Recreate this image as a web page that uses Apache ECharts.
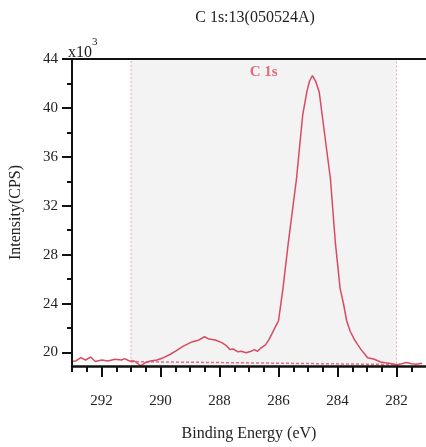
<!DOCTYPE html>
<html>
<head>
<meta charset="utf-8">
<script src="https://cdn.jsdelivr.net/npm/echarts@6/dist/echarts.min.js"></script>
<style>
  html, body { margin: 0; padding: 0; background: #ffffff; }
  #chart { width: 426px; height: 447px; }
</style>
</head>
<body>
<div id="chart"></div>
<script>
// C 1s XPS spectrum: binding energy (eV) vs. intensity (x10^3 CPS)
const energy = [293.00, 292.87, 292.70, 292.54, 292.37, 292.21, 291.99, 291.78, 291.55, 291.32,
  291.22, 291.05, 290.89, 290.67, 290.50, 290.34, 290.12, 289.90, 289.68, 289.46,
  289.24, 289.02, 288.91, 288.69, 288.51, 288.36, 288.14, 287.92, 287.76, 287.65,
  287.54, 287.37, 287.26, 287.10, 286.93, 286.82, 286.71, 286.60, 286.44, 286.33,
  286.22, 286.11, 286.00, 285.85, 285.67, 285.39, 285.18, 285.04, 284.95, 284.85,
  284.74, 284.62, 284.52, 284.24, 284.07, 283.91, 283.80, 283.69, 283.57, 283.42,
  283.31, 283.20, 283.08, 282.98, 282.75, 282.54, 282.38, 282.21, 281.99, 281.82,
  281.66, 281.49, 281.33, 281.13];
const intensity = [19.29, 19.31, 19.58, 19.39, 19.63, 19.27, 19.39, 19.31, 19.45, 19.39,
  19.50, 19.31, 19.31, 18.92, 19.19, 19.31, 19.39, 19.58, 19.84, 20.16,
  20.50, 20.77, 20.89, 21.03, 21.29, 21.10, 21.03, 20.81, 20.55, 20.24,
  20.29, 20.06, 20.10, 19.98, 20.10, 20.24, 20.10, 20.37, 20.63, 21.03,
  21.55, 22.08, 22.60, 25.21, 28.92, 34.21, 39.42, 41.31, 42.18, 42.65,
  42.18, 41.31, 39.42, 34.21, 28.92, 25.21, 24.03, 22.60, 21.74, 21.03,
  20.63, 20.24, 19.88, 19.58, 19.45, 19.23, 19.17, 19.11, 19.01, 19.09,
  19.19, 19.09, 19.05, 19.13];

// fitting region and linear background
const regionEnergy = [291, 282];
const backgroundIntensity = [19.26, 19.02];

// axis ticks
const xMajorTicks = [282, 284, 286, 288, 290, 292];
const xMinorTicks = [];
for (let e = 281.5; e <= 293; e += 0.5) xMinorTicks.push(e);
const yMajorTicks = [20, 24, 28, 32, 36, 40, 44];
const yMinorTicks = [20, 22, 24, 26, 28, 30, 32, 34, 36, 38, 40, 42, 44];

const peakLabel = 'C 1s';
const peakLabelPos = [286.5, 42.9];

const FONT = '"Liberation Serif", "DejaVu Serif", serif';
const LINE = '#d94a62';

const chart = echarts.init(document.getElementById('chart'), null, { renderer: 'canvas' });

const xRange = { min: 281, max: 293, inverse: true };
const yRange = { min: 18.9, max: 44 };

chart.setOption({
  backgroundColor: '#ffffff',
  animation: false,
  title: {
    text: 'C 1s:13(050524A)',
    left: 250,
    top: 5,
    textAlign: 'center',
    textStyle: { fontFamily: FONT, fontSize: 16, fontWeight: 'normal', color: '#222' }
  },
  grid: { left: 66, right: -4, top: 59, bottom: 70, containLabel: false },
  xAxis: [
    {
      type: 'value', ...xRange, position: 'bottom', z: 10,
      axisLine: { show: true, lineStyle: { color: '#111', width: 2.5 } },
      axisTick: { show: true, length: 11, customValues: xMajorTicks, lineStyle: { color: '#111', width: 2 } },
      axisLabel: { customValues: xMajorTicks, margin: 28, fontFamily: FONT, fontSize: 15, color: '#222' },
      splitLine: { show: false },
      name: 'Binding Energy (eV)', nameLocation: 'middle', nameGap: 60,
      nameTextStyle: { fontFamily: FONT, fontSize: 16, color: '#222' }
    },
    {
      type: 'value', ...xRange, position: 'bottom', z: 10,
      axisLine: { show: false },
      axisTick: { show: true, length: 6, customValues: xMinorTicks, lineStyle: { color: '#111', width: 2 } },
      axisLabel: { show: false },
      splitLine: { show: false }
    },
    {
      type: 'value', ...xRange, position: 'top', z: 10,
      axisLine: { show: true, lineStyle: { color: '#111', width: 2 } },
      axisTick: { show: false },
      axisLabel: { show: false },
      splitLine: { show: false }
    }
  ],
  yAxis: [
    {
      type: 'value', ...yRange, position: 'left', z: 10,
      axisLine: { show: true, lineStyle: { color: '#111', width: 2 } },
      axisTick: { show: true, length: 10, customValues: yMajorTicks, lineStyle: { color: '#111', width: 2 } },
      axisLabel: { customValues: yMajorTicks, margin: 14, padding: [0, 0, 7, 0], fontFamily: FONT, fontSize: 15, color: '#222' },
      splitLine: { show: false },
      name: 'Intensity(CPS)', nameLocation: 'middle', nameGap: 48, nameRotate: 90,
      nameTextStyle: { fontFamily: FONT, fontSize: 16, color: '#222' }
    },
    {
      type: 'value', ...yRange, position: 'left', z: 10,
      axisLine: { show: false },
      axisTick: { show: true, length: 5, customValues: yMinorTicks, lineStyle: { color: '#111', width: 2 } },
      axisLabel: { show: false },
      splitLine: { show: false }
    }
  ],
  graphic: [
    {
      type: 'text', left: 68, top: 37, z: 20,
      style: {
        text: '{b|x10}{s|3}',
        rich: {
          b: { fontFamily: FONT, fontSize: 16, fill: '#222', verticalAlign: 'bottom', lineHeight: 24 },
          s: { fontFamily: FONT, fontSize: 11, fill: '#222', verticalAlign: 'top', lineHeight: 24 }
        }
      }
    }
  ],
  series: [
    {
      type: 'line',
      xAxisIndex: 0, yAxisIndex: 0,
      data: energy.map((e, i) => [e, intensity[i]]),
      showSymbol: false,
      smooth: false,
      lineStyle: { color: LINE, width: 1.5 },
      z: 5,
      markArea: {
        silent: true,
        itemStyle: { color: '#f3f3f3', borderColor: '#f2a6b6', borderWidth: 1, borderType: [2, 2] },
        data: [[{ xAxis: regionEnergy[0] }, { xAxis: regionEnergy[1] }]]
      },
      markPoint: {
        silent: true,
        symbol: 'rect', symbolSize: 1,
        itemStyle: { color: 'rgba(0,0,0,0)' },
        label: {
          show: true, position: 'inside', formatter: peakLabel,
          fontFamily: FONT, fontSize: 15, fontWeight: 'bold', color: '#e06a80'
        },
        data: [{ coord: peakLabelPos }]
      }
    },
    {
      type: 'line',
      xAxisIndex: 0, yAxisIndex: 0,
      data: regionEnergy.map((e, i) => [e, backgroundIntensity[i]]),
      showSymbol: false,
      lineStyle: { color: '#e0708a', width: 1.5, type: [3, 2] },
      z: 4
    }
  ]
});
</script>
</body>
</html>
